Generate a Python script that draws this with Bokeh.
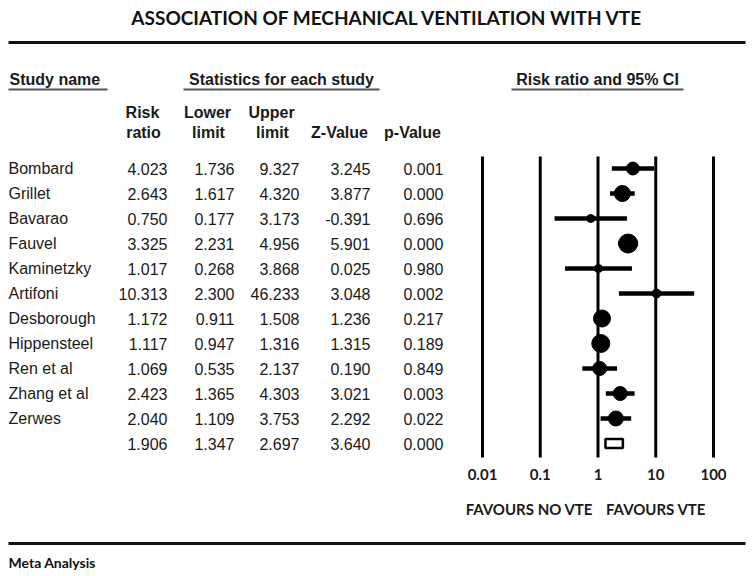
from bokeh.plotting import figure
from bokeh.models import Range1d, LogScale
from bokeh.core.properties import value
from bokeh.embed import file_html
from bokeh.resources import INLINE

# ---------------- data ----------------
studies = ["Bombard", "Grillet", "Bavarao", "Fauvel", "Kaminetzky", "Artifoni",
           "Desborough", "Hippensteel", "Ren et al", "Zhang et al", "Zerwes"]
risk_ratio = [4.023, 2.643, 0.750, 3.325, 1.017, 10.313, 1.172, 1.117, 1.069, 2.423, 2.040]
lower_limit = [1.736, 1.617, 0.177, 2.231, 0.268, 2.300, 0.911, 0.947, 0.535, 1.365, 1.109]
upper_limit = [9.327, 4.320, 3.173, 4.956, 3.868, 46.233, 1.508, 1.316, 2.137, 4.303, 3.753]
z_value = [3.245, 3.877, -0.391, 5.901, 0.025, 3.048, 1.236, 1.315, 0.190, 3.021, 2.292]
p_value = [0.001, 0.000, 0.696, 0.000, 0.980, 0.002, 0.217, 0.189, 0.849, 0.003, 0.022]
# summary row: risk ratio, lower, upper, z, p
summary_stats = [1.906, 1.347, 2.697, 3.640, 0.000]
tick_values = [0.01, 0.1, 1, 10, 100]
tick_labels = ["0.01", "0.1", "1", "10", "100"]

# ---------------- styling / layout ----------------
marker_px = [13, 16, 8, 19, 8, 9, 17, 18, 14, 14, 15]
W, H = 747, 570
ROW0, DROW = 168, 25
DEC = 57.75            # pixels per decade on the forest axis
X_001, X_100 = 482, 713
TXT = "#1a1a1a"
DATA_FONT = value("Liberation Sans")
HEAD_FONT = value("Liberation Sans")
CAL_FONT = value("Lato")

p = figure(width=W, height=H, x_range=Range1d(0, W), y_range=Range1d(H, 0),
           output_backend="svg", toolbar_location=None,
           x_axis_location=None, y_axis_location=None, min_border=0)
p.outline_line_color = None
p.xgrid.visible = False
p.ygrid.visible = False

lo = 10 ** (-2 - X_001 / DEC)
hi = 10 ** (2 + (W - X_100) / DEC)
p.extra_x_ranges = {"rr": Range1d(lo, hi)}
p.extra_x_scales = {"rr": LogScale()}

# title and rules
p.text(x=[387], y=[17], text=["ASSOCIATION OF MECHANICAL VENTILATION WITH VTE"],
       text_font=CAL_FONT, text_font_style="bold", text_font_size="19px",
       text_align="center", text_baseline="middle", text_color="#111111")
p.segment(x0=[8, 8], y0=[42, 543], x1=[745, 745], y1=[42, 543], line_width=3, line_color="#111111")
p.text(x=[8], y=[562], text=["Meta Analysis"], text_font=CAL_FONT, text_font_style="bold",
       text_font_size="14px", text_align="left", text_baseline="middle", text_color="#111111")

# group headers
p.text(x=[9, 281, 597], y=[79, 79, 79],
       text=["Study name", "Statistics for each study", "Risk ratio and 95% CI"],
       text_font=HEAD_FONT, text_font_style="bold", text_font_size="16px",
       text_align=["left", "center", "center"], text_baseline="middle", text_color=TXT)
p.segment(x0=[8, 183, 511], y0=[89, 89, 89], x1=[107, 379, 683], y1=[89, 89, 89],
          line_width=2, line_color="#555555")

# column headers
hx1 = [142, 207, 271]
p.text(x=hx1, y=[112] * 3, text=["Risk", "Lower", "Upper"],
       text_font=HEAD_FONT, text_font_style="bold", text_font_size="16px",
       text_align="center", text_baseline="middle", text_color=TXT)
hx2 = [143, 208, 272, 339, 412]
p.text(x=hx2, y=[132] * 5, text=["ratio", "limit", "limit", "Z-Value", "p-Value"],
       text_font=HEAD_FONT, text_font_style="bold", text_font_size="16px",
       text_align="center", text_baseline="middle", text_color=TXT)

# table body
n = len(studies)
ys = [ROW0 + DROW * i for i in range(n)]
y_sum = ROW0 + DROW * n
p.text(x=[8] * n, y=ys, text=studies, text_font=DATA_FONT, text_font_size="16px",
       text_align="left", text_baseline="middle", text_color=TXT)
col_right = [167, 234, 299, 370, 443]
columns = [risk_ratio, lower_limit, upper_limit, z_value, p_value]
for xr, col, sv in zip(col_right, columns, summary_stats):
    vals = list(col) + [sv]
    p.text(x=[xr] * (n + 1), y=ys + [y_sum], text=[f"{v:.3f}" for v in vals],
           text_font=DATA_FONT, text_font_size="16px",
           text_align="right", text_baseline="middle", text_color=TXT)

# forest plot: reference lines
p.segment(x0=tick_values, y0=[156] * 5, x1=tick_values, y1=[457] * 5,
          x_range_name="rr", line_width=3, line_color="black")
p.text(x=tick_values, y=[474] * 5, text=tick_labels, x_range_name="rr",
       text_font=CAL_FONT, text_font_style="bold", text_font_size="15px",
       text_align="center", text_baseline="middle", text_color=TXT)
p.text(x=[1, 1], y=[508, 508], text=["FAVOURS NO VTE", "FAVOURS VTE"], x_range_name="rr",
       x_offset=[-5, 8], text_font=CAL_FONT, text_font_style="bold", text_font_size="15px",
       text_align=["right", "left"], text_baseline="middle", text_color=TXT)

# study CIs and point estimates
p.segment(x0=lower_limit, y0=ys, x1=upper_limit, y1=ys, x_range_name="rr",
          line_width=4.5, line_color="black")
p.scatter(x=risk_ratio, y=ys, size=marker_px, x_range_name="rr",
          marker="circle", fill_color="black", line_color="black")

# summary estimate
p.quad(left=[summary_stats[1]], right=[summary_stats[2]], top=[y_sum - 4.5], bottom=[y_sum + 4.5],
       x_range_name="rr", fill_color="white", line_color="black", line_width=2.5)

open("out.html", "w").write(file_html(p, INLINE))
